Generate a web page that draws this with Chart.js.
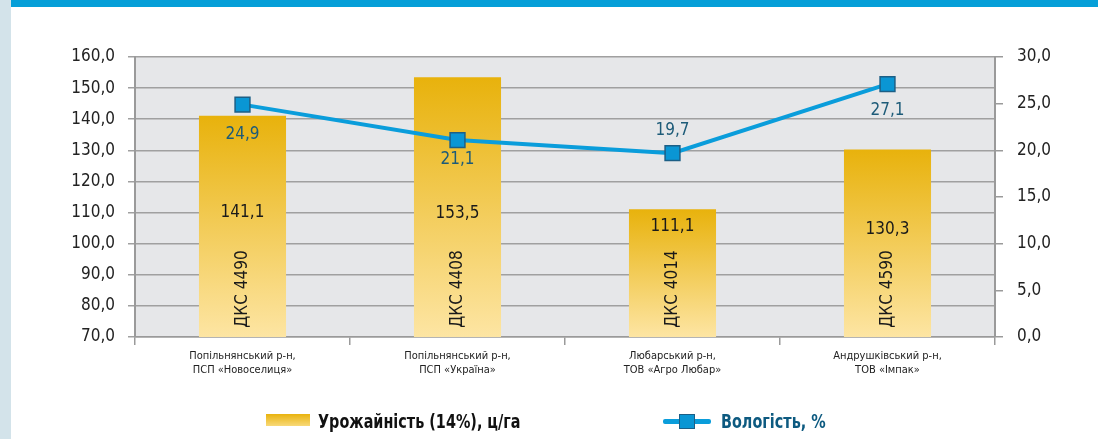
<!DOCTYPE html>
<html>
<head>
<meta charset="utf-8">
<script src="https://cdn.jsdelivr.net/npm/chart.js@4/dist/chart.umd.min.js"></script>
<style>
  body { margin: 0; background: #fff; width: 1098px; height: 439px; overflow: hidden; position: relative;
         font-family: 'DejaVu Sans Condensed', 'DejaVu Sans', sans-serif; }
  #strip { position: absolute; left: 0; top: 0; width: 11px; height: 439px; background: #d3e3ea; }
  #band { position: absolute; left: 11px; top: 0; right: 0; height: 7px; background: #069fd8; }
  #chart { position: absolute; left: 0; top: 0; }
  .leg { position: absolute; top: 409px; font-weight: bold; font-size: 20px; line-height: 24px;
         transform: scaleX(0.8); transform-origin: left center; white-space: nowrap; }
  #leg1 { left: 318px; color: #111; }
  #leg2 { left: 721px; color: #0d5a80; }
  #sw1 { position: absolute; left: 266px; top: 414px; width: 44px; height: 12px;
         background: linear-gradient(#e9b30e, #f8d978); }
  #sw2line { position: absolute; left: 663px; top: 419px; width: 48px; height: 5px; background: #0a9ddb; border-radius: 2px; }
  #sw2box { position: absolute; left: 679px; top: 414px; width: 14px; height: 13px; background: #0a96d4; border: 1.5px solid #1c5f86; }
</style>
</head>
<body>
<div id="strip"></div>
<div id="band"></div>
<canvas id="chart" width="1098" height="439"></canvas>
<div id="sw1"></div><div class="leg" id="leg1">Урожайність (14%), ц/га</div>
<div id="sw2line"></div><div id="sw2box"></div><div class="leg" id="leg2">Вологість, %</div>
<script>
const categories = [
  ['Попільнянський р-н,', 'ПСП «Новоселиця»'],
  ['Попільнянський р-н,', 'ПСП «Україна»'],
  ['Любарський р-н,', 'ТОВ «Агро Любар»'],
  ['Андрушківський р-н,', 'ТОВ «Імпак»']
];
const hybrids = ['ДКС 4490', 'ДКС 4408', 'ДКС 4014', 'ДКС 4590'];
const yieldValues = [141.1, 153.5, 111.1, 130.3];
const moistureValues = [24.9, 21.1, 19.7, 27.1];

const FONT = "'DejaVu Sans Condensed', 'DejaVu Sans', sans-serif";
const fmt = v => v.toFixed(1).replace('.', ',');

// gradient for each bar, from its top to the bottom of the plot
function barFill(ctx) {
  const chart = ctx.chart;
  const area = chart.chartArea;
  if (!area || !chart.scales.y) return '#eebf2a';
  const top = chart.scales.y.getPixelForValue(ctx.raw);
  const g = chart.ctx.createLinearGradient(0, top, 0, area.bottom);
  g.addColorStop(0, '#e8b20c');
  g.addColorStop(1, '#fde5a3');
  return g;
}

const plotBg = {
  id: 'plotBg',
  beforeDraw(chart) {
    const a = chart.chartArea, c = chart.ctx;
    c.save();
    c.fillStyle = '#e6e7e9';
    c.fillRect(a.left, a.top, a.right - a.left, a.bottom - a.top);
    c.restore();
  }
};

const valueLabels = {
  id: 'valueLabels',
  afterDatasetsDraw(chart) {
    const c = chart.ctx;
    const bars = chart.getDatasetMeta(0).data;
    const pts = chart.getDatasetMeta(1).data;
    const barDrop = [97, 136, 17, 80];
    const lineShift = [30, 20, -23, 27];
    c.save();
    c.textAlign = 'center';
    c.textBaseline = 'middle';
    c.font = '17px ' + FONT;
    bars.forEach((b, i) => {
      c.fillStyle = '#1a1a1a';
      c.fillText(fmt(yieldValues[i]), b.x, b.y + barDrop[i]);
      c.save();
      c.translate(b.x, chart.chartArea.bottom - 48);
      c.rotate(-Math.PI / 2);
      c.fillText(hybrids[i], 0, 0);
      c.restore();
    });
    pts.forEach((p, i) => {
      c.fillStyle = '#1d5b78';
      c.fillText(fmt(moistureValues[i]), p.x, p.y + lineShift[i]);
    });
    c.restore();
  }
};

new Chart(document.getElementById('chart'), {
  data: {
    labels: categories,
    datasets: [{
      type: 'bar',
      label: 'Урожайність (14%), ц/га',
      data: yieldValues,
      backgroundColor: barFill,
      yAxisID: 'y',
      categoryPercentage: 1,
      barPercentage: 0.405,
      order: 2
    }, {
      type: 'line',
      label: 'Вологість, %',
      data: moistureValues,
      yAxisID: 'y1',
      borderColor: '#0a9ddb',
      borderWidth: 4,
      pointStyle: 'rect',
      pointRadius: 10.5,
      pointBackgroundColor: '#0a96d4',
      pointBorderColor: '#1c5f86',
      pointBorderWidth: 1.5,
      tension: 0,
      order: 1
    }]
  },
  options: {
    responsive: false,
    devicePixelRatio: 1,
    animation: false,
    layout: { padding: { top: 57, left: 0, right: 0, bottom: 0 } },
    plugins: { legend: { display: false }, tooltip: { enabled: false } },
    scales: {
      x: {
        afterFit(s) { s.height = 102; },
        grid: { offset: true, drawOnChartArea: false, tickLength: 8, color: '#9a9a9a', lineWidth: 1.5 },
        border: { display: true, color: '#9a9a9a', width: 1.5 },
        ticks: { color: '#222', padding: 5, font: { family: FONT, size: 11 }, maxRotation: 0 }
      },
      y: {
        position: 'left',
        min: 70, max: 160,
        afterFit(s) { s.width = 135; },
        grid: { color: '#a0a0a0', lineWidth: 1.5, tickLength: 7 },
        border: { color: '#9a9a9a', width: 2 },
        ticks: { stepSize: 10, color: '#222', padding: 13, font: { family: FONT, size: 17 },
                 callback: v => fmt(v) }
      },
      y1: {
        position: 'right',
        min: 0, max: 30,
        afterFit(s) { s.width = 103; },
        grid: { drawOnChartArea: false, color: '#9a9a9a', lineWidth: 1.5, tickLength: 8 },
        border: { color: '#9a9a9a', width: 2 },
        ticks: { stepSize: 5, color: '#222', padding: 14, font: { family: FONT, size: 17 },
                 callback: v => fmt(v) }
      }
    }
  },
  plugins: [plotBg, valueLabels]
});
</script>
</body>
</html>
